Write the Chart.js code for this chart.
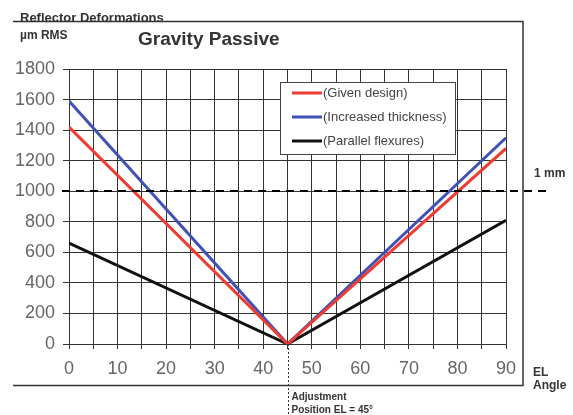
<!DOCTYPE html>
<html>
<head>
<meta charset="utf-8">
<script src="https://cdn.jsdelivr.net/npm/chart.js@4.4.1/dist/chart.umd.min.js"></script>
<style>
  html, body { margin: 0; padding: 0; background: #fff; }
  #wrap { width: 573px; height: 415px; position: relative; }
</style>
</head>
<body>
<div id="wrap"><canvas id="c" width="573" height="415"></canvas></div>
<script>
// Elevation angles (degrees) and reflector deformation (µm RMS) per design
const elAngles = [0, 45, 90];
const givenDesign = [1420, 0, 1280];
const increasedThickness = [1590, 0, 1350];
const parallelFlexures = [660, 0, 810];
const seriesLabels = ['(Given design)', '(Increased thickness)', '(Parallel flexures)'];
const seriesColors = ['#ee3b33', '#3f51b5', '#111111'];
const limitValue = 1000;      // 1 mm limit
const adjustmentAngle = 45;   // adjustment position

const yTicks = [0, 200, 400, 600, 800, 1000, 1200, 1400, 1600, 1800];

const FONT = '"Liberation Sans", Arial, sans-serif';

function toPoints(vals) {
  return elAngles.map((a, i) => ({ x: a, y: vals[i] }));
}

const decorations = {
  id: 'decorations',
  afterDatasetsDraw(chart) {
    const ctx = chart.ctx;
    const xs = chart.scales.x, ys = chart.scales.y;
    const area = chart.chartArea;
    ctx.save();

    // outer frame (open on the left)
    ctx.strokeStyle = '#333';
    ctx.lineWidth = 1.5;
    ctx.beginPath();
    ctx.moveTo(13, 21.5);
    ctx.lineTo(523, 21.5);
    ctx.lineTo(523, 385.5);
    ctx.lineTo(13, 385.5);
    ctx.stroke();

    // 1 mm limit line
    const yl = Math.round(ys.getPixelForValue(limitValue));
    ctx.strokeStyle = '#000';
    ctx.lineWidth = 2;
    ctx.setLineDash([8, 6]);
    ctx.beginPath();
    ctx.moveTo(62, yl);
    ctx.lineTo(546, yl);
    ctx.stroke();

    // adjustment position marker
    const xa = Math.round(xs.getPixelForValue(adjustmentAngle)) + 0.5;
    ctx.lineWidth = 1;
    ctx.setLineDash([2, 2]);
    ctx.strokeStyle = '#333';
    ctx.beginPath();
    ctx.moveTo(xa, area.bottom);
    ctx.lineTo(xa, 415);
    ctx.stroke();
    ctx.setLineDash([]);

    // texts
    ctx.fillStyle = '#333';
    ctx.textBaseline = 'alphabetic';
    ctx.textAlign = 'left';
    ctx.font = 'bold 13px ' + FONT;
    ctx.fillText('Reflector Deformations', 20, 22);
    ctx.font = 'bold 12px ' + FONT;
    ctx.fillText('µm RMS', 20, 39);
    ctx.font = 'bold 19px ' + FONT;
    ctx.fillText('Gravity Passive', 138, 45);

    ctx.font = 'bold 12px ' + FONT;
    ctx.fillText('1 mm', 534, 177);
    ctx.fillText('EL', 533, 376);
    ctx.fillText('Angle', 533, 389);
    ctx.font = 'bold 10px ' + FONT;
    ctx.fillText('Adjustment', xa + 3, 400);
    ctx.fillText('Position EL = 45°', xa + 3, 413);

    // legend box
    const lx = 280, ly = 82, lw = 175, lh = 72;
    ctx.fillStyle = '#fff';
    ctx.fillRect(lx, ly, lw, lh);
    ctx.strokeStyle = '#444';
    ctx.lineWidth = 1;
    ctx.strokeRect(lx + 0.5, ly + 0.5, lw, lh);
    ctx.font = '13px ' + FONT;
    ctx.textBaseline = 'middle';
    chart.data.datasets.forEach((ds, i) => {
      const yy = ly + 11 + i * 24;
      ctx.strokeStyle = ds.borderColor;
      ctx.lineWidth = 3;
      ctx.beginPath();
      ctx.moveTo(lx + 12, yy);
      ctx.lineTo(lx + 42, yy);
      ctx.stroke();
      ctx.fillStyle = '#444';
      ctx.fillText(ds.label, lx + 43, yy);
    });
    ctx.restore();
  }
};

new Chart(document.getElementById('c'), {
  type: 'line',
  data: {
    datasets: [
      { label: seriesLabels[0], data: toPoints(givenDesign), borderColor: seriesColors[0] },
      { label: seriesLabels[1], data: toPoints(increasedThickness), borderColor: seriesColors[1] },
      { label: seriesLabels[2], data: toPoints(parallelFlexures), borderColor: seriesColors[2] }
    ].map(d => Object.assign(d, { borderWidth: 3, pointRadius: 0, fill: false, tension: 0 }))
  },
  options: {
    responsive: false,
    animation: false,
    devicePixelRatio: 1,
    layout: { padding: { left: 0, top: 69, right: 67, bottom: 0 } },
    plugins: { legend: { display: false }, tooltip: { enabled: false } },
    scales: {
      x: {
        type: 'linear',
        min: 0, max: 90,
        afterFit: s => { s.height = 71; },
        ticks: {
          stepSize: 5,
          autoSkip: false,
          maxRotation: 0,
          padding: 9,
          color: '#666',
          font: { family: FONT, size: 18 },
          callback: v => (v % 10 === 0 ? String(v) : '')
        },
        grid: { color: '#333', lineWidth: 1, tickLength: 5 },
        border: { color: '#333' }
      },
      y: {
        min: 0, max: 1800,
        afterFit: s => { s.width = 69; },
        afterBuildTicks: s => { s.ticks = yTicks.map(v => ({ value: v })); },
        ticks: {
          padding: 8,
          color: '#666',
          font: { family: FONT, size: 18 },
          callback: v => String(v)
        },
        grid: { color: '#333', lineWidth: 1, tickLength: 6 },
        border: { color: '#333' }
      }
    }
  },
  plugins: [decorations]
});
</script>
</body>
</html>
